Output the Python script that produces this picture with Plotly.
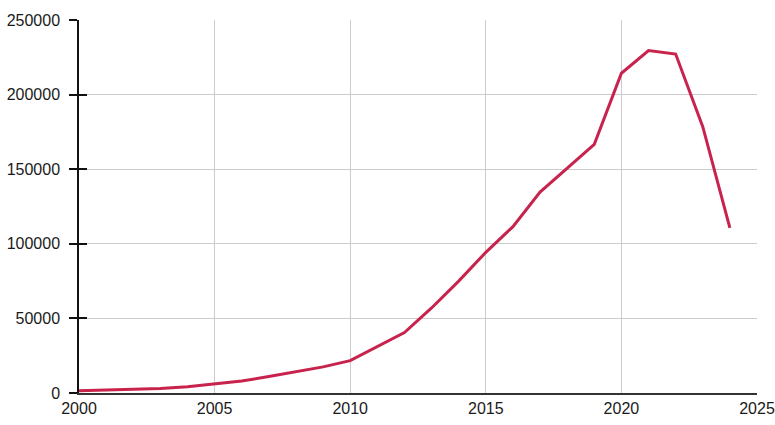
import plotly.graph_objects as go

years = list(range(2000, 2025))
values = [1500, 2000, 2500, 3000, 4200, 6000, 8000, 11000, 14000, 17500,
          21700, 31000, 40500, 57000, 75000, 94300, 111500, 134700, 150800, 166700,
          214300, 229500, 227200, 178500, 110600]

x_ticks = [2000, 2005, 2010, 2015, 2020, 2025]
y_ticks = [0, 50000, 100000, 150000, 200000, 250000]
y_labels = ["0", "50000", "100000", "150000", "200000", "250000"]

fig = go.Figure()
fig.add_trace(go.Scatter(x=years, y=values, mode="lines",
                         line=dict(color="#c8234c", width=3), showlegend=False))
# helper invisible trace for the inner half of y tick marks
fig.add_trace(go.Scatter(x=[years[0]], y=[values[0]], yaxis="y2", mode="lines",
                         line=dict(width=0), showlegend=False, hoverinfo="skip"))

font = dict(family="Liberation Sans, Arial, sans-serif", size=16, color="#1a1a1a")

fig.update_layout(
    width=775, height=425,
    margin=dict(l=79, r=18, t=20, b=32, autoexpand=False),
    paper_bgcolor="white", plot_bgcolor="white",
    font=font,
    xaxis=dict(range=[2000, 2025], tickvals=x_ticks, ticks="",
               showgrid=True, gridcolor="#cccccc", gridwidth=1,
               showline=True, linecolor="#333333", linewidth=1.5,
               zeroline=False, tickfont=font, automargin=False,
               ticklabeloverflow="allow"),
    yaxis=dict(range=[0, 250000], tickvals=y_ticks, ticktext=y_labels,
               ticks="outside", ticklen=8,
               tickcolor="#111111", tickwidth=1.5,
               showgrid=True, gridcolor="#cccccc", gridwidth=1,
               showline=True, linecolor="#111111", linewidth=1.5,
               zeroline=False, tickfont=font, ticklabelstandoff=6, automargin=False),
    yaxis2=dict(range=[0, 250000], tickvals=y_ticks, ticks="inside", ticklen=8,
                tickcolor="#111111", tickwidth=1.5, overlaying="y", side="left",
                showticklabels=False, showgrid=False, showline=False, zeroline=False,
                automargin=False),
)

fig.write_html("out.html", config={"displayModeBar": False},
               post_script="document.body.style.margin='0';document.body.style.overflow='hidden';")
